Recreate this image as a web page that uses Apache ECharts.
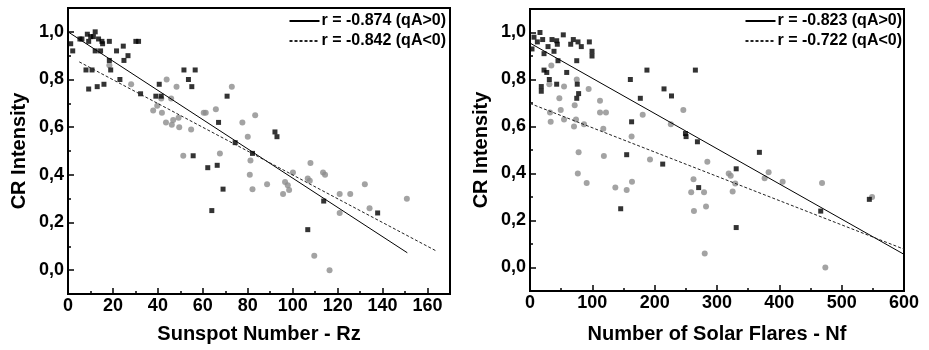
<!DOCTYPE html>
<html>
<head>
  <meta charset="utf-8">
</head>
<body style="height: 100%; margin: 0; background: #fff">
  <div id="container" style="width: 929px; height: 350px"></div>
  <script type="text/javascript" src="https://cdn.jsdelivr.net/npm/echarts@6/dist/echarts.min.js"></script>
  <script type="text/javascript">
    // left panel: CR intensity vs sunspot number (Rz)
    const rzPositive = [
      [1.2, 0.95], [2.1, 0.92], [5.3, 0.97], [6.2, 0.97], [8.6, 0.99], [9.2, 0.96], [10.1, 0.98],
      [12.1, 1.0], [11.3, 0.98], [13.6, 0.97], [15.1, 0.96], [15.4, 0.95], [12.1, 0.92], [14.5, 0.92],
      [18.4, 0.96], [18.4, 0.88], [19, 0.84], [21.6, 0.92], [24.6, 0.94], [24.9, 0.88], [26.7, 0.9],
      [30.2, 0.96], [31.4, 0.96], [8, 0.84], [10.7, 0.84], [9.2, 0.76], [13, 0.77], [16, 0.78],
      [23.1, 0.8], [32.3, 0.74], [39.1, 0.73], [40.6, 0.78], [41.5, 0.73], [51.6, 0.84], [53.6, 0.8],
      [55.1, 0.77], [56.6, 0.84], [67, 0.62], [70.8, 0.73], [74.4, 0.535], [55.7, 0.48], [62.2, 0.43],
      [66.4, 0.44], [69, 0.34], [64, 0.25], [92.1, 0.58], [93, 0.56], [82.1, 0.49], [113.8, 0.29],
      [137.8, 0.24], [106.7, 0.17]
    ];
    const rzNegative = [
      [18.4, 0.86], [28.1, 0.78], [37.9, 0.67], [39.7, 0.69], [43.9, 0.8], [41.5, 0.72], [41.8, 0.66],
      [45.9, 0.72], [48.3, 0.77], [43.6, 0.62], [46.2, 0.61], [46.8, 0.63], [49.2, 0.64], [49.5, 0.6],
      [54.8, 0.59], [51.3, 0.48], [60.4, 0.66], [61.3, 0.66], [65.8, 0.675], [67.6, 0.49], [72.9, 0.77],
      [83.3, 0.65], [77.6, 0.62], [80, 0.56], [81.2, 0.46], [80.9, 0.4], [107.9, 0.45], [113.5, 0.41],
      [114.4, 0.4], [100.1, 0.41], [106.7, 0.385], [107.6, 0.375], [82.1, 0.34], [88.6, 0.36],
      [96.6, 0.37], [97.8, 0.356], [95.7, 0.32], [98.4, 0.336], [120.9, 0.32], [125.6, 0.32],
      [132.1, 0.36], [120.9, 0.24], [134.2, 0.26], [150.8, 0.3], [109.6, 0.06], [116.4, 0.0]
    ];
    const rzFitPositive = [[0, 1.0], [151, 0.073]];
    const rzFitNegative = [[5, 0.874], [164, 0.08]];

    // right panel: CR intensity vs number of solar flares (Nf)
    const nfPositive = [
      [3.2, 0.93], [6.4, 0.98], [11.8, 0.96], [16, 1.0], [20.3, 0.97], [22.5, 0.91], [22.5, 0.84],
      [26.9, 0.83], [18.1, 0.77], [18.1, 0.75], [31, 0.8], [28.9, 0.94], [35.3, 0.97], [38.5, 0.92],
      [42.8, 0.965], [43.8, 0.95], [44.9, 0.88], [42.8, 0.78], [53.4, 0.99], [58.9, 0.83], [65.3, 0.95],
      [69.5, 0.97], [75, 0.88], [77, 0.96], [82.3, 0.94], [75.8, 0.78], [78, 0.74], [75, 0.72],
      [95.2, 0.96], [99.5, 0.92], [99.5, 0.9], [161, 0.8], [163, 0.62], [177, 0.72], [187.6, 0.84],
      [215, 0.76], [227, 0.73], [265.3, 0.84], [249.4, 0.57], [250.4, 0.557], [268.6, 0.535],
      [155.1, 0.48], [212.9, 0.44], [330.8, 0.42], [368, 0.49], [270.6, 0.34], [145.5, 0.25],
      [330.8, 0.17], [466.4, 0.24], [544.4, 0.29]
    ];
    const nfNegative = [
      [34.2, 0.86], [31, 0.78], [54.6, 0.77], [47.1, 0.72], [32.1, 0.66], [49.3, 0.67], [54.6, 0.63],
      [33.2, 0.62], [71.7, 0.69], [75, 0.8], [73.8, 0.63], [70.6, 0.6], [86.6, 0.61], [94.1, 0.76],
      [112.3, 0.71], [112.3, 0.66], [121.9, 0.66], [117.6, 0.59], [78, 0.49], [76.7, 0.4], [118.5, 0.475],
      [163, 0.557], [180.8, 0.65], [192.5, 0.46], [225.9, 0.61], [246, 0.67], [262.3, 0.376],
      [90.9, 0.36], [136.9, 0.34], [155.1, 0.33], [163.6, 0.365], [258.6, 0.32], [263, 0.24],
      [284.5, 0.45], [279.2, 0.32], [282.4, 0.26], [280.3, 0.06], [318.8, 0.4], [322, 0.39],
      [329.3, 0.357], [325.1, 0.323], [376.4, 0.38], [382.8, 0.405], [405.3, 0.365], [468.5, 0.36],
      [548.8, 0.3], [473.8, 0.0]
    ];
    const nfFitPositive = [[0, 0.955], [600, 0.056]];
    const nfFitNegative = [[0, 0.698], [600, 0.078]];

    const legendLeft = ['r = -0.874 (qA>0)', 'r = -0.842 (qA<0)'];
    const legendRight = ['r = -0.823 (qA>0)', 'r = -0.722 (qA<0)'];

    const FONT = '"Liberation Sans", Arial, sans-serif';

    var dom = document.getElementById('container');
    var myChart = echarts.init(dom, null, { renderer: 'canvas' });

    function yLabel(v) {
      const r = Math.round(v * 10);
      if (r % 2 !== 0 || r < 0 || r > 10) return '';
      return (r / 10).toFixed(1).replace('.', ',');
    }

    function valueX(gridIndex, max, interval, labelEvery, lastLabel, name, nameGap) {
      return {
        type: 'value', gridIndex: gridIndex, min: 0, max: max, interval: interval,
        name: name, nameLocation: 'middle', nameGap: nameGap,
        nameTextStyle: { fontFamily: FONT, fontWeight: 'bold', fontSize: 20, color: '#000' },
        axisLine: { show: true, onZero: false, lineStyle: { color: '#000', width: 2 } },
        axisTick: { show: true, inside: true, length: 3, lineStyle: { color: '#000', width: 1.5 } },
        axisLabel: {
          margin: 3, fontFamily: FONT, fontWeight: 'bold', fontSize: 18, color: '#000',
          formatter: function (v) { return v % labelEvery === 0 && v <= lastLabel ? String(v) : ''; }
        },
        splitLine: { show: false }
      };
    }

    // extra axis carrying only the longer major ticks
    function majorX(gridIndex, max, interval) {
      return {
        type: 'value', gridIndex: gridIndex, min: 0, max: max, interval: interval, position: 'bottom',
        axisLine: { show: false, onZero: false }, axisLabel: { show: false }, splitLine: { show: false },
        axisTick: { show: true, inside: true, length: 6, lineStyle: { color: '#000', width: 1.5 } }
      };
    }

    function valueY(gridIndex) {
      return {
        type: 'value', gridIndex: gridIndex, min: -0.1, max: 1.1, interval: 0.1,
        name: 'CR Intensity', nameLocation: 'middle', nameGap: 39, nameRotate: 90,
        nameTextStyle: { fontFamily: FONT, fontWeight: 'bold', fontSize: 20, color: '#000' },
        axisLine: { show: true, onZero: false, lineStyle: { color: '#000', width: 2 } },
        axisTick: { show: true, inside: true, length: 3, lineStyle: { color: '#000', width: 1.5 } },
        axisLabel: { margin: 4, fontFamily: FONT, fontWeight: 'bold', fontSize: 18, color: '#000', formatter: yLabel },
        splitLine: { show: false }
      };
    }

    function majorY(gridIndex) {
      return {
        type: 'value', gridIndex: gridIndex, min: -0.1, max: 1.1, splitNumber: 6, position: 'left',
        axisLine: { show: false, onZero: false }, axisLabel: { show: false }, splitLine: { show: false },
        axisTick: { show: true, inside: true, length: 6, lineStyle: { color: '#000', width: 1.5 } }
      };
    }

    function legend(names, right) {
      return {
        data: names, orient: 'vertical', right: right, top: 13, itemWidth: 30, itemHeight: 14, itemGap: 4,
        selectedMode: false, padding: 0,
        itemStyle: { opacity: 0 },
        textStyle: { fontFamily: FONT, fontWeight: 'bold', fontSize: 16, color: '#000', padding: [0, 0, 0, -3] }
      };
    }

    function dots(name, data, axis, square) {
      return {
        name: name, type: 'scatter', xAxisIndex: axis, yAxisIndex: axis, data: data,
        symbol: square ? 'rect' : 'circle', symbolSize: square ? 5 : 6,
        itemStyle: { color: square ? '#000' : '#8c8c8c' }, z: square ? 3 : 2
      };
    }

    function fit(name, data, axis, dashed) {
      return {
        name: name, type: 'line', xAxisIndex: axis, yAxisIndex: axis, data: data,
        symbol: 'none', silent: true, z: 4,
        itemStyle: { color: '#000' },
        lineStyle: { color: dashed ? '#222' : '#000', width: 1, type: dashed ? [3, 2] : 'solid' }
      };
    }

    var option = {
      animation: false,
      backgroundColor: '#fff',
      grid: [
        { left: 68, top: 8, width: 382, height: 286, show: true, borderColor: '#000', borderWidth: 2, outerBoundsMode: 'none' },
        { left: 530, top: 9, width: 374, height: 282, show: true, borderColor: '#000', borderWidth: 2, outerBoundsMode: 'none' }
      ],
      legend: [legend(legendLeft, 483), legend(legendRight, 27)],
      xAxis: [
        valueX(0, 170, 10, 20, 160, 'Sunspot Number - Rz', 30),
        valueX(1, 600, 50, 100, 600, 'Number of Solar Flares - Nf', 33),
        majorX(0, 170, 20),
        majorX(1, 600, 100)
      ],
      yAxis: [valueY(0), valueY(1), majorY(0), majorY(1)],
      series: [
        dots('rz qA<0', rzNegative, 0, false),
        dots('rz qA>0', rzPositive, 0, true),
        fit(legendLeft[0], rzFitPositive, 0, false),
        fit(legendLeft[1], rzFitNegative, 0, true),
        dots('nf qA<0', nfNegative, 1, false),
        dots('nf qA>0', nfPositive, 1, true),
        fit(legendRight[0], nfFitPositive, 1, false),
        fit(legendRight[1], nfFitNegative, 1, true)
      ]
    };

    myChart.setOption(option);
    window.addEventListener('resize', myChart.resize);
  </script>
</body>
</html>
